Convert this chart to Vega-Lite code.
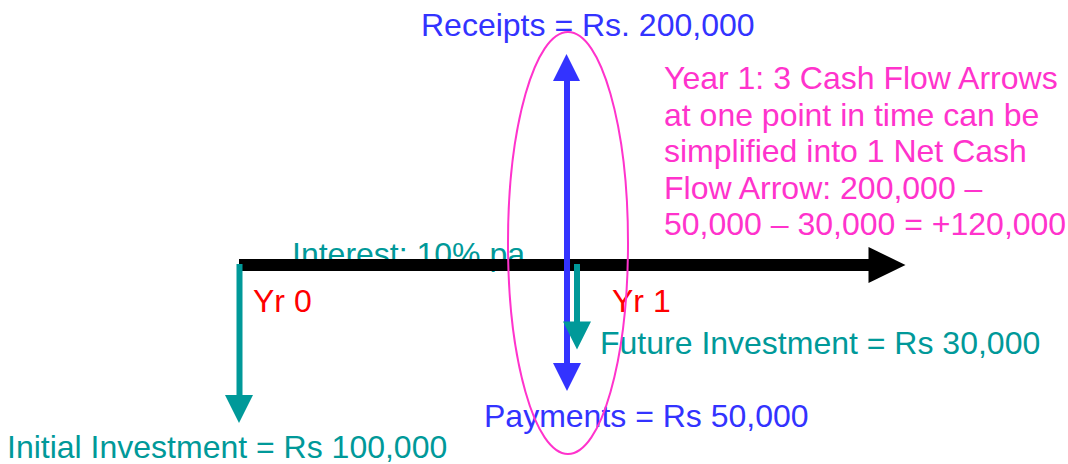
{
  "$schema": "https://vega.github.io/schema/vega-lite/v6.json",
  "width": 1068,
  "height": 464,
  "autosize": {"type": "fit", "contains": "padding"},
  "padding": 0,
  "background": "white",
  "view": {"stroke": null},
  "config": {"axis": {"disable": true}},
  "datasets": {
    "timeline": [{"x": 239, "x2": 871, "y": 265, "kind": "timeline"}],
    "shafts": [
      {"flow": "Receipts / Payments", "x": 567, "y": 78, "y2": 366, "kind": "cash flow"},
      {"flow": "Future Investment", "x": 577, "y": 264, "y2": 324, "kind": "investment"},
      {"flow": "Initial Investment", "x": 239.5, "y": 264, "y2": 397, "kind": "investment"}
    ],
    "heads": [
      {"flow": "Timeline", "x": 887, "y": 265, "dir": "right", "kind": "timeline"},
      {"flow": "Receipts", "x": 566.5, "y": 67.5, "dir": "up", "kind": "cash flow"},
      {"flow": "Payments", "x": 567, "y": 377, "dir": "down", "kind": "cash flow"},
      {"flow": "Future Investment", "x": 577, "y": 335.5, "dir": "down", "kind": "investment"},
      {"flow": "Initial Investment", "x": 239, "y": 409, "dir": "down", "kind": "investment"}
    ],
    "labels": [
      {"text": "Receipts = Rs. 200,000", "x": 421, "y": 36, "kind": "cash flow"},
      {"text": "Payments = Rs 50,000", "x": 484, "y": 427, "kind": "cash flow"},
      {"text": "Future Investment = Rs 30,000", "x": 600, "y": 354, "kind": "investment"},
      {"text": "Initial Investment = Rs 100,000", "x": 7, "y": 458, "kind": "investment"},
      {"text": "Yr 0", "x": 253, "y": 312, "kind": "year"},
      {"text": "Yr 1", "x": 612, "y": 312, "kind": "year"},
      {"text": "Year 1: 3 Cash Flow Arrows", "x": 664, "y": 89, "kind": "note"},
      {"text": "at one point in time can be", "x": 664, "y": 125.5, "kind": "note"},
      {"text": "simplified into 1 Net Cash", "x": 664, "y": 162, "kind": "note"},
      {"text": "Flow Arrow: 200,000 –", "x": 664, "y": 198.5, "kind": "note"},
      {"text": "50,000 – 30,000 = +120,000", "x": 664, "y": 235, "kind": "note"}
    ],
    "interest": [{"text": "Interest: 10% pa", "x": 292, "y": 264.5, "kind": "interest"}],
    "ring": [{"x": 568, "y": 243, "kind": "note"}]
  },
  "layer": [
    {
      "data": {"name": "interest"},
      "mark": {"type": "text", "align": "left", "baseline": "alphabetic", "font": "Liberation Sans", "fontSize": 32},
      "encoding": {
        "x": {"field": "x", "type": "quantitative", "scale": {"domain": [0, 1068], "nice": false, "zero": false}, "axis": null},
        "y": {"field": "y", "type": "quantitative", "scale": {"domain": [0, 464], "nice": false, "zero": false, "reverse": true}, "axis": null},
        "text": {"field": "text"},
        "color": {"field": "kind", "type": "nominal", "legend": null,
          "scale": {"domain": ["cash flow", "investment", "interest", "year", "note", "timeline"],
                    "range": ["#3333FF", "#009999", "#009999", "#FF0000", "#FF33CC", "#000000"]}}
      }
    },
    {
      "data": {"name": "timeline"},
      "mark": {"type": "rule", "strokeWidth": 12},
      "encoding": {
        "x": {"field": "x", "type": "quantitative"},
        "x2": {"field": "x2"},
        "y": {"field": "y", "type": "quantitative"},
        "color": {"field": "kind", "type": "nominal", "legend": null}
      }
    },
    {
      "data": {"name": "shafts"},
      "mark": {"type": "rule", "strokeWidth": 6},
      "encoding": {
        "x": {"field": "x", "type": "quantitative"},
        "y": {"field": "y", "type": "quantitative"},
        "y2": {"field": "y2"},
        "color": {"field": "kind", "type": "nominal", "legend": null}
      }
    },
    {
      "data": {"name": "heads"},
      "mark": {"type": "point", "filled": true, "opacity": 1, "size": 1369, "strokeWidth": 0},
      "encoding": {
        "x": {"field": "x", "type": "quantitative"},
        "y": {"field": "y", "type": "quantitative"},
        "shape": {"field": "dir", "type": "nominal", "legend": null,
          "scale": {"domain": ["right", "up", "down"],
                    "range": ["M-1,-0.973L1,0L-1,0.973Z", "M-0.73,0.73L0.73,0.73L0,-0.73Z", "M-0.757,-0.757L0.757,-0.757L0,0.757Z"]}},
        "color": {"field": "kind", "type": "nominal", "legend": null}
      }
    },
    {
      "data": {"name": "labels"},
      "mark": {"type": "text", "align": "left", "baseline": "alphabetic", "font": "Liberation Sans", "fontSize": 32},
      "encoding": {
        "x": {"field": "x", "type": "quantitative"},
        "y": {"field": "y", "type": "quantitative"},
        "text": {"field": "text"},
        "color": {"field": "kind", "type": "nominal", "legend": null}
      }
    },
    {
      "data": {"name": "ring"},
      "mark": {"type": "point", "filled": false, "opacity": 1, "strokeWidth": 2, "size": 178084,
               "shape": "M0,-1C0.1571,-1 0.2844,-0.5523 0.2844,0C0.2844,0.5523 0.1571,1 0,1C-0.1571,1 -0.2844,0.5523 -0.2844,0C-0.2844,-0.5523 -0.1571,-1 0,-1Z"},
      "encoding": {
        "x": {"field": "x", "type": "quantitative"},
        "y": {"field": "y", "type": "quantitative"},
        "color": {"field": "kind", "type": "nominal", "legend": null}
      }
    }
  ]
}
